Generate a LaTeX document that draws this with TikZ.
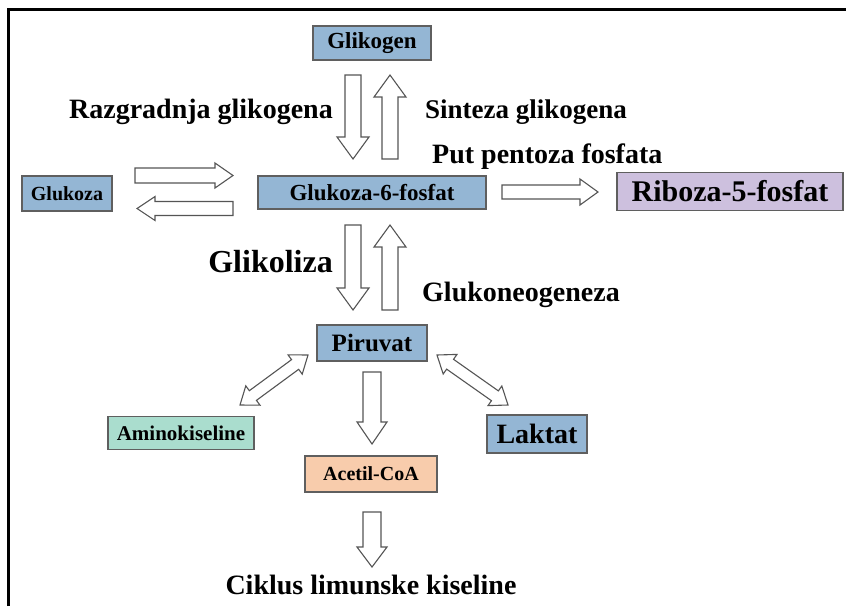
\documentclass[tikz,border=0pt]{standalone}
\usepackage{fontspec}
\setmainfont{Liberation Serif}
\usetikzlibrary{calc}
\definecolor{bxblue}{RGB}{148,182,212}
\definecolor{bxlav}{RGB}{205,192,222}
\definecolor{bxmint}{RGB}{170,221,206}
\definecolor{bxpeach}{RGB}{248,204,172}
\definecolor{bxline}{RGB}{95,95,95}
\definecolor{arline}{RGB}{85,85,85}
\newcommand{\fs}[1]{\fontsize{#1}{#1}\selectfont}
\newcommand{\blkarrow}[5]{%
  \coordinate (tmpC) at ($(#2)!#5!(#1)$);
  \draw[blk] ($(#1)!#3!90:(#2)$) -- ($(tmpC)!#3!90:(#2)$) -- ($(tmpC)!#4!90:(#2)$) -- (#2)
    -- ($(tmpC)!#4!-90:(#2)$) -- ($(tmpC)!#3!-90:(#2)$) -- ($(#1)!#3!-90:(#2)$) -- cycle;}
\newcommand{\dblarrow}[5]{%
  \coordinate (tmpA) at ($(#1)!#5!(#2)$);
  \coordinate (tmpB) at ($(#2)!#5!(#1)$);
  \draw[blk] (#1) -- ($(tmpA)!#4!90:(#2)$) -- ($(tmpA)!#3!90:(#2)$) -- ($(tmpB)!#3!90:(#2)$)
    -- ($(tmpB)!#4!90:(#2)$) -- (#2) -- ($(tmpB)!#4!-90:(#2)$) -- ($(tmpB)!#3!-90:(#2)$)
    -- ($(tmpA)!#3!-90:(#2)$) -- ($(tmpA)!#4!-90:(#2)$) -- cycle;}
\tikzset{
  box/.style={draw=bxline, line width=1.2pt, inner sep=0pt, font=\bfseries},
  blk/.style={draw=arline, fill=white, line width=1.1pt, line join=miter},
  lbl/.style={font=\bfseries, inner sep=0pt},
}
\begin{document}
\begin{tikzpicture}[x=1pt,y=-1pt]
\useasboundingbox (0,0) rectangle (846,606);
\fill[white] (0,0) rectangle (846,606);
\draw[line width=3pt] (8,606) -- (8,9) -- (846,9);

% boxes
\node[box, fill=bxblue, minimum width=118pt, minimum height=34pt] (glikogen) at (372,43) {\fs{23}Glikogen};
\node[box, fill=bxblue, minimum width=90pt, minimum height=35pt] (glukoza) at (67,193.5) {\fs{20}Glukoza};
\node[box, fill=bxblue, minimum width=228pt, minimum height=33pt] (g6p) at (372,192.5) {\fs{23}Glukoza-6-fosfat};
\node[box, fill=bxlav, minimum width=226pt, minimum height=38pt] (riboza) at (730,191.5) {\fs{30}Riboza-5-fosfat};
\node[box, fill=bxblue, minimum width=110pt, minimum height=36pt] (piruvat) at (372,343) {\fs{25}Piruvat};
\node[box, fill=bxmint, minimum width=146pt, minimum height=33pt] (amino) at (181,433) {\fs{21}Aminokiseline};
\node[box, fill=bxblue, minimum width=100pt, minimum height=38pt] (laktat) at (537,434) {\fs{28}Laktat};
\node[box, fill=bxpeach, minimum width=132pt, minimum height=36pt] (acetil) at (371,474) {\fs{20}Acetil-CoA};

% labels
\node[lbl, anchor=east] (lrazg) at (333,112) {\fs{28}Razgradnja glikogena};
\node[lbl, anchor=west] (lsint) at (425,112) {\fs{27}Sinteza glikogena};
\node[lbl, anchor=west] (lput) at (432,157) {\fs{28}Put pentoza fosfata};
\node[lbl, anchor=east] (lglik) at (333,262) {\fs{32}Glikoliza};
\node[lbl, anchor=west] (lglun) at (422,295) {\fs{28}Glukoneogeneza};
\node[lbl] (lcik) at (371,585) {\fs{28}Ciklus limunske kiseline};

% arrow end points
\coordinate (a1s) at (353,75);  \coordinate (a1e) at (353,159);
\coordinate (a2s) at (390,159); \coordinate (a2e) at (390,75);
\coordinate (a3s) at (135,175.5); \coordinate (a3e) at (233,175.5);
\coordinate (a4s) at (233,208.5); \coordinate (a4e) at (137,208.5);
\coordinate (a5s) at (502,192); \coordinate (a5e) at (598,192);
\coordinate (a6s) at (353,225); \coordinate (a6e) at (353,310);
\coordinate (a7s) at (390,310); \coordinate (a7e) at (390,225);
\coordinate (a8s) at (372,372); \coordinate (a8e) at (372,444);
\coordinate (a9s) at (372,512); \coordinate (a9e) at (372,567);
\coordinate (d1s) at (308,355); \coordinate (d1e) at (240,405);
\coordinate (d2s) at (437,355); \coordinate (d2e) at (508,405);

\blkarrow{a1s}{a1e}{8pt}{16pt}{22pt}
\blkarrow{a2s}{a2e}{8pt}{16pt}{22pt}
\blkarrow{a3s}{a3e}{7.5pt}{12.5pt}{18pt}
\blkarrow{a4s}{a4e}{7pt}{12pt}{18pt}
\blkarrow{a5s}{a5e}{7pt}{13pt}{18pt}
\blkarrow{a6s}{a6e}{8pt}{16pt}{22pt}
\blkarrow{a7s}{a7e}{8pt}{16pt}{22pt}
\blkarrow{a8s}{a8e}{9pt}{15pt}{22pt}
\blkarrow{a9s}{a9e}{9pt}{15pt}{20pt}
\dblarrow{d1s}{d1e}{6pt}{12pt}{16pt}
\dblarrow{d2s}{d2e}{6pt}{12pt}{16pt}
\end{tikzpicture}
\end{document}
